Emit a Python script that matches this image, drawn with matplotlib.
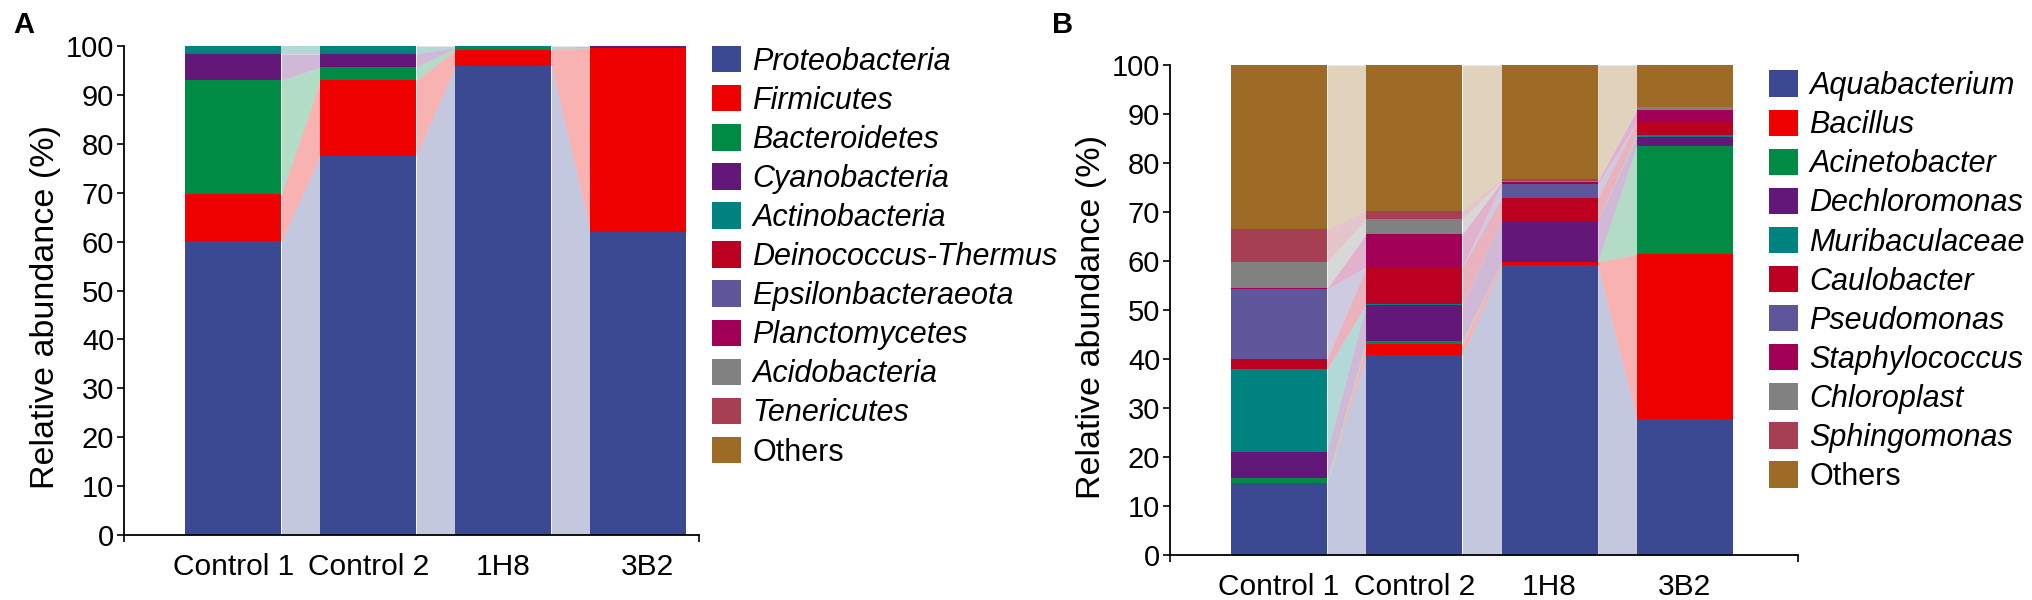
import numpy as np
import matplotlib
matplotlib.use('Agg')
import matplotlib.pyplot as plt
from matplotlib.patches import Patch

plt.rcParams['font.family'] = ['Liberation Sans', 'DejaVu Sans']

samples = ['Control 1', 'Control 2', '1H8', '3B2']

phyla = ['Proteobacteria', 'Firmicutes', 'Bacteroidetes', 'Cyanobacteria',
         'Actinobacteria', 'Deinococcus-Thermus', 'Epsilonbacteraeota',
         'Planctomycetes', 'Acidobacteria', 'Tenericutes', 'Others']
phyla_control1 = [60.2, 9.6, 23.2, 5.4, 1.5, 0.02, 0.02, 0.02, 0.02, 0.01, 0.01]
phyla_control2 = [77.6, 15.4, 2.7, 2.7, 1.5, 0.02, 0.02, 0.02, 0.02, 0.01, 0.01]
phyla_1h8 = [96.0, 3.2, 0.4, 0.05, 0.3, 0.01, 0.01, 0.01, 0.01, 0.005, 0.005]
phyla_3b2 = [62.0, 37.6, 0.05, 0.3, 0.01, 0.01, 0.01, 0.005, 0.005, 0.005, 0.005]

genera = ['Aquabacterium', 'Bacillus', 'Acinetobacter', 'Dechloromonas',
          'Muribaculaceae', 'Caulobacter', 'Pseudomonas', 'Staphylococcus',
          'Chloroplast', 'Sphingomonas', 'Others']
genera_control1 = [14.6, 0.1, 1.0, 5.4, 16.8, 2.1, 14.3, 0.1, 5.4, 6.7, 33.5]
genera_control2 = [40.9, 2.2, 0.6, 7.4, 0.1, 7.5, 0.1, 6.7, 3.1, 1.7, 29.7]
genera_1h8 = [59.1, 0.7, 0.05, 8.35, 0.05, 4.65, 2.8, 0.5, 0.1, 0.4, 23.3]
genera_3b2 = [27.8, 33.6, 22.1, 1.9, 0.4, 2.5, 0.1, 2.5, 0.5, 0.1, 8.5]

palette = ['#3B4992', '#EE0000', '#008B45', '#631879', '#008280', '#BB0021',
           '#5F559B', '#A20056', '#808180', '#A63F52', '#9E6B27']

W, H = 2033, 600
fig = plt.figure(figsize=(W / 100, H / 100), dpi=100)


def px_axes(left, right, top, bottom):
    return [left / W, 1 - bottom / H, (right - left) / W, (bottom - top) / H]


def draw_panel(ax, data, labels, xmin, xmax, label_shift, width=0.711):
    mat = np.array(data, dtype=float)          # samples x taxa
    x = np.arange(mat.shape[0])
    tops = np.cumsum(mat, axis=1)
    bots = tops - mat
    n_taxa = mat.shape[1]
    # connecting bands
    for i in range(len(x) - 1):
        xs = [x[i] + width / 2, x[i + 1] - width / 2]
        for k in range(n_taxa):
            ax.fill_between(xs, [bots[i, k], bots[i + 1, k]],
                            [tops[i, k], tops[i + 1, k]],
                            color=palette[k], alpha=0.3, lw=0)
    for k in range(n_taxa):
        ax.bar(x, mat[:, k], width, bottom=bots[:, k], color=palette[k],
               lw=0, label=labels[k])
    ax.set_xlim(xmin, xmax)
    ax.set_ylim(0, 100)
    for s in ['top', 'right']:
        ax.spines[s].set_visible(False)
    for s in ['left', 'bottom']:
        ax.spines[s].set_linewidth(1.3)
    ax.set_yticks(np.arange(0, 101, 10))
    ax.tick_params(axis='y', length=5, width=1.2, pad=2, labelsize=21)
    ax.set_xticks(x + np.array(label_shift))
    ax.set_xticklabels(samples)
    ax.tick_params(axis='x', which='major', length=0, pad=13, labelsize=21.5)
    ax.set_xticks([xmin, xmax], minor=True)
    ax.tick_params(axis='x', which='minor', length=5, width=1.2)


axA = fig.add_axes(px_axes(124, 699, 46, 535))
draw_panel(axA, [phyla_control1, phyla_control2, phyla_1h8, phyla_3b2],
           phyla, -0.811, 3.45, [0, 0, 0, 0.07])
axB = fig.add_axes(px_axes(1170, 1798, 65, 555))
draw_panel(axB, [genera_control1, genera_control2, genera_1h8, genera_3b2],
           genera, -0.806, 3.836, [0, 0, 0, 0])


def add_legend(ax, labels, x, top):
    handles = [Patch(facecolor=palette[k], edgecolor='none') for k in range(len(labels))]
    leg = ax.legend(handles, labels, loc='upper left',
                    bbox_to_anchor=(x / W, 1 - top / H),
                    bbox_transform=fig.transFigure, frameon=False,
                    prop={'size': 22, 'style': 'italic'},
                    handlelength=0.95, handleheight=0.95, handletextpad=0.36,
                    labelspacing=0.275, borderpad=0, borderaxespad=0)
    for t in leg.get_texts():
        if t.get_text() == 'Others':
            t.set_fontstyle('normal')


add_legend(axA, phyla, 712, 46)
add_legend(axB, genera, 1769, 70.5)

fig.text(46 / W, 1 - 307 / H, 'Relative abundance (%)', rotation=90,
         ha='center', va='center', fontsize=24.5)
fig.text(1092 / W, 1 - 317 / H, 'Relative abundance (%)', rotation=90,
         ha='center', va='center', fontsize=24.5)
fig.text(13 / W, 1 - 33 / H, 'A', fontweight='bold', fontsize=21, va='baseline')
fig.text(1052 / W, 1 - 33 / H, 'B', fontweight='bold', fontsize=21, va='baseline')

fig.savefig('out.png', dpi=100)
